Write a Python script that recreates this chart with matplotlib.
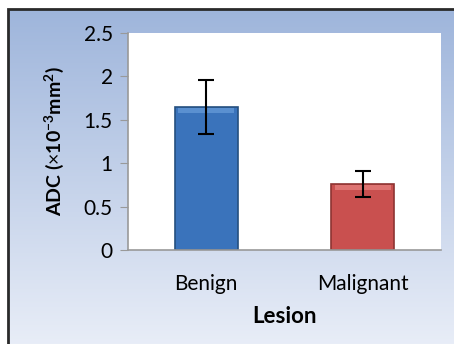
import numpy as np
import matplotlib.pyplot as plt
from matplotlib.patches import Rectangle

categories = ['Benign', 'Malignant']
adc_mean = [1.65, 0.76]
adc_err = [0.31, 0.155]
bar_colors = ['#3a73bb', '#c9504f']
edge_colors = ['#25507f', '#8e3432']

plt.rcParams['font.family'] = ['Lato', 'DejaVu Sans']
plt.rcParams['mathtext.fontset'] = 'custom'
plt.rcParams['mathtext.rm'] = 'Lato'
plt.rcParams['mathtext.bf'] = 'Lato:bold'

W, H = 454, 344
fig = plt.figure(figsize=(W / 100, H / 100), dpi=100)
fig.patch.set_facecolor('white')

# gradient panel behind the chart
bg = fig.add_axes([8 / W, 0, 1 - 8 / W, 1 - 9 / H])
grad = np.linspace(0, 1, 256).reshape(-1, 1)
top = np.array([0.62, 0.71, 0.86])
bot = np.array([0.91, 0.93, 0.97])
img = top + (bot - top) * grad[..., None]
bg.imshow(img, aspect='auto', extent=[0, 1, 0, 1])
bg.set_axis_off()
fig.patches.append(Rectangle((8 / W, -0.05), 1.1, 1 - 9 / H + 0.05,
                             transform=fig.transFigure, fill=False,
                             edgecolor='#2a2a2a', linewidth=2, zorder=5))

ax = fig.add_axes([128 / W, 1 - 250 / H, (441 - 128) / W, (250 - 33) / H])
ax.set_facecolor('white')
x = np.arange(len(categories))
ax.bar(x, adc_mean, width=0.4, color=bar_colors, edgecolor=edge_colors,
       linewidth=1.2, yerr=adc_err, capsize=5.5,
       error_kw=dict(ecolor='black', elinewidth=1.5, capthick=1.5))
# lighter top band for the bevel look
ax.bar(x, [0.06, 0.06], bottom=np.array(adc_mean) - 0.07, width=0.36,
       color=['#5a90d0', '#de7472'], linewidth=0)

ax.set_xlim(-0.5, 1.5)
ax.set_ylim(0, 2.5)
ax.set_yticks([0, 0.5, 1, 1.5, 2, 2.5])
ax.set_yticklabels(['0', '0.5', '1', '1.5', '2', '2.5'])
ax.set_xticks(x)
ax.set_xticklabels(categories)
ax.tick_params(axis='y', labelsize=15, length=6, color='#999999', pad=5)
ax.tick_params(axis='x', labelsize=15, length=0, pad=17)
for s in ['top', 'right']:
    ax.spines[s].set_visible(False)
for s in ['left', 'bottom']:
    ax.spines[s].set_color('#999999')
    ax.spines[s].set_linewidth(1.2)

ax.set_ylabel(r'ADC ($\times$10$^{\mathbf{-3}}$mm$^{\mathbf{2}}$)', fontsize=14,
              fontweight='bold', labelpad=13)
ax.set_xlabel('Lesion', fontsize=16, fontweight='bold', labelpad=9)

plt.savefig('out.png', dpi=100)
